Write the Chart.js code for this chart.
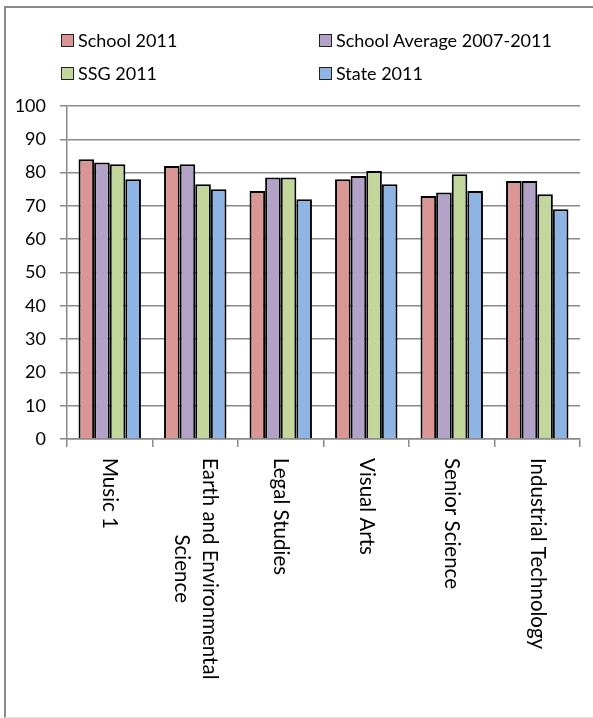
<!DOCTYPE html>
<html>
<head>
<meta charset="utf-8">
<script src="https://cdn.jsdelivr.net/npm/chart.js@4.4.1/dist/chart.umd.min.js"></script>
<style>
  html, body { margin: 0; padding: 0; background: #fff; }
  #wrap { position: relative; width: 593px; height: 718px; overflow: hidden; font-family: Lato, sans-serif; }
  #frame { position: absolute; left: 4px; top: 6px; width: 620px; height: 709px;
           border-left: 2px solid #8a8a8a; border-top: 2px solid #8a8a8a; border-bottom: 1px solid #e6e6e6; pointer-events: none; }
  canvas { position: absolute; left: 0; top: 0; }
  .leg { position: absolute; font-size: 18px; color: #000; white-space: nowrap; line-height: 20px; }
  .leg span.box { display: inline-block; width: 11px; height: 11px; border: 1px solid #222; vertical-align: middle; margin-right: 4px; position: relative; top: -2px; }
</style>
</head>
<body>
<div id="wrap">
  <canvas id="c" width="593" height="718"></canvas>
  <div id="frame"></div>
  <div id="legend"></div>
</div>
<script>
// ---- data ----
const categories = ['Music 1', ['Earth and Environmental', 'Science'], 'Legal Studies', 'Visual Arts', 'Senior Science', 'Industrial Technology'];
const seriesNames = ['School 2011', 'School Average 2007-2011', 'SSG 2011', 'State 2011'];
const school2011 = [84, 82, 74.5, 78, 73, 77.5];
const schoolAvg0711 = [83, 82.5, 78.5, 79, 74, 77.5];
const ssg2011 = [82.5, 76.5, 78.5, 80.5, 79.5, 73.5];
const state2011 = [78, 75, 72, 76.5, 74.5, 69];
const yTicks = [0, 10, 20, 30, 40, 50, 60, 70, 80, 90, 100];

const colors = ['#D99694', '#B3A2C7', '#C3D69B', '#8EB4E3'];
const seriesValues = [school2011, schoolAvg0711, ssg2011, state2011];

// legend (HTML, two columns)
const legPos = [[61, 30], [319, 30], [61, 63], [319, 63]];
const legend = document.getElementById('legend');
seriesNames.forEach((n, i) => {
  const d = document.createElement('div');
  d.className = 'leg';
  d.style.left = legPos[i][0] + 'px';
  d.style.top = legPos[i][1] + 'px';
  const b = document.createElement('span');
  b.className = 'box';
  b.style.background = colors[i];
  d.appendChild(b);
  d.appendChild(document.createTextNode(n));
  legend.appendChild(d);
});

Chart.defaults.font.family = 'Lato, sans-serif';
Chart.defaults.font.size = 18;
Chart.defaults.color = '#000';

const rotatedLabels = {
  id: 'rotatedLabels',
  afterDraw(chart) {
    const xs = chart.scales.x;
    const ctx = chart.ctx;
    ctx.save();
    ctx.font = '20.5px Lato, sans-serif';
    ctx.fillStyle = '#000';
    const top = chart.chartArea.bottom + 19;
    const lh = 28;
    categories.forEach((lab, i) => {
      const lines = Array.isArray(lab) ? lab : [lab];
      const x = xs.getPixelForValue(i);
      const maxW = Math.max(...lines.map(l => ctx.measureText(l).width));
      ctx.save();
      ctx.translate(x, top);
      ctx.rotate(Math.PI / 2);
      ctx.textAlign = 'center';
      ctx.textBaseline = 'middle';
      lines.forEach((l, j) => {
        ctx.fillText(l, maxW / 2, (j - (lines.length - 1) / 2) * lh);
      });
      ctx.restore();
    });
    ctx.restore();
  }
};

new Chart(document.getElementById('c'), {
  type: 'bar',
  data: {
    labels: categories,
    datasets: seriesNames.map((n, i) => ({
      label: n,
      data: seriesValues[i],
      backgroundColor: colors[i],
      borderColor: '#000',
      borderWidth: 2,
      categoryPercentage: 0.73,
      barPercentage: 1.0
    }))
  },
  options: {
    responsive: false,
    animation: false,
    layout: { padding: { top: 106, right: 13, bottom: 0, left: 0 } },
    plugins: { legend: { display: false }, tooltip: { enabled: false } },
    scales: {
      x: {
        afterFit: s => { s.height = 279; },
        ticks: { display: false },
        grid: { offset: true, drawOnChartArea: false, color: '#8a8a8a', tickLength: 8, lineWidth: 1.5 },
        border: { color: '#8a8a8a', width: 1.5 }
      },
      y: {
        min: 0, max: 100,
        afterFit: s => { s.width = 67; },
        afterBuildTicks: s => { s.ticks = yTicks.map(v => ({ value: v })); },
        ticks: { padding: 14, color: '#000', font: { size: 18 } },
        grid: { color: '#8a8a8a', tickLength: 7, lineWidth: 1.5 },
        border: { color: '#8a8a8a', width: 1.5 }
      }
    }
  },
  plugins: [rotatedLabels]
});
</script>
</body>
</html>
